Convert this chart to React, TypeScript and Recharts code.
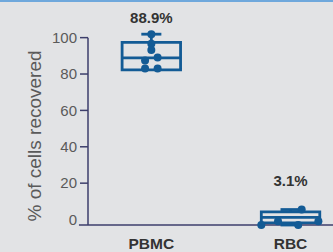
import React from 'react';
import { ComposedChart, XAxis, YAxis, Scatter, ReferenceArea, ReferenceLine } from 'recharts';

// categories + box stats
const categories = ['PBMC', 'RBC'];
const positions = [1, 2];
const summaryLabels = ['88.9%', '3.1%'];
const mins = [82.3, -3];
const q1s = [82.3, -1.8];
const medians = [88.9, 1.2];
const q3s = [97.4, 4.2];
const maxs = [101.9, 5.5];

// individual points (x = category position + jitter)
const pbmcX = [1.0, 1.0, 1.0, 0.955, 1.045, 0.955, 1.045];
const pbmcY = [101.9, 96.7, 93.2, 87.4, 89.1, 83.0, 83.0];
const rbcX = [1.79, 1.91, 2.055, 2.08, 2.2];
const rbcY = [-3, -1, -3, 5.5, -1];

const yTicks = [0, 20, 40, 60, 80, 100];

const BLUE = '#135b95';
const AXIS = '#3d3e6b';
const X_DOMAIN = [0.545, 2.305];
const Y_DOMAIN = [-3, 102];
const BOX_HALF = 0.21;
const CAP_HALF = 0.072;
const BOX_STROKE = 2.8;
const labelLift = [11, 23.5];

const boxes = categories.map((name, i) => ({
  name,
  x: positions[i],
  label: summaryLabels[i],
  lift: labelLift[i],
  min: mins[i],
  q1: q1s[i],
  median: medians[i],
  q3: q3s[i],
  max: maxs[i],
}));

const points = [
  ...pbmcX.map((x, i) => ({ x, y: pbmcY[i] })),
  ...rbcX.map((x, i) => ({ x, y: rbcY[i] })),
];

const TICK_SIZE = 8;
const TICK_MARGIN = 3;

const renderYTick = (props: any) => {
  const { x, y, payload } = props;
  return (
    <g>
      {payload.value !== 0 && (
        <line x1={x + TICK_MARGIN} x2={x + TICK_MARGIN + TICK_SIZE} y1={y} y2={y} stroke={AXIS} strokeWidth={1.5} />
      )}
      <text x={x} y={y} dy="0.355em" textAnchor="end" fontSize={15} fill="#5a5a5a">
        {payload.value}
      </text>
    </g>
  );
};

const renderYLabel = (props: any) => {
  const vb = props.viewBox || {};
  const cx = 34;
  const cy = (vb.y || 0) + (vb.height || 0) / 2 + 6.5;
  return (
    <text x={cx} y={cy} transform={`rotate(-90 ${cx} ${cy})`} textAnchor="middle" dominantBaseline="central" fontSize={19} fill="#5a5a5a">
      % of cells recovered
    </text>
  );
};

export default function App() {
  return (
    <div style={{ position: 'relative', width: 333, height: 252, background: '#e2e3e5', fontFamily: '"Liberation Sans", Arial, sans-serif', overflow: 'hidden' }}>
      <style>{'body{margin:0}'}</style>
      <div style={{ position: 'absolute', top: 0, left: 0, width: 333, height: 2, background: '#6fa8dc' }} />
      <ComposedChart width={333} height={252} margin={{ top: 34, right: 0, bottom: 0, left: 0 }}>
        <XAxis
          type="number"
          dataKey="x"
          domain={X_DOMAIN}
          ticks={positions}
          interval={0}
          tickFormatter={(v: number) => categories[positions.indexOf(v)]}
          axisLine={false}
          tickLine={false}
          tickSize={0}
          tickMargin={13}
          height={27}
          tick={{ fontSize: 15.5, fontWeight: 700, fill: '#333' }}
        />
        <YAxis
          type="number"
          domain={Y_DOMAIN}
          ticks={yTicks}
          interval={0}
          width={88}
          axisLine={false}
          tickLine={false}
          tickSize={TICK_SIZE}
          tickMargin={TICK_MARGIN}
          tick={renderYTick}
          label={renderYLabel}
        />

        {/* axis lines (y stops at 100, x pokes out left like the 0 tick) */}
        <ReferenceLine segment={[{ x: X_DOMAIN[0], y: Y_DOMAIN[0] }, { x: X_DOMAIN[0], y: 100 }]} stroke={AXIS} strokeWidth={1.5} ifOverflow="visible" />
        <ReferenceLine segment={[{ x: 0.48, y: Y_DOMAIN[0] }, { x: X_DOMAIN[1], y: Y_DOMAIN[0] }]} stroke={AXIS} strokeWidth={1.5} ifOverflow="visible" />

        {boxes.map((b) => (
          <ReferenceArea
            key={`box-${b.name}`}
            x1={b.x - BOX_HALF}
            x2={b.x + BOX_HALF}
            y1={b.q1}
            y2={b.q3}
            fill="none"
            stroke={BLUE}
            strokeWidth={BOX_STROKE}
            ifOverflow="visible"
          />
        ))}
        {boxes.map((b) => (
          <ReferenceLine key={`med-${b.name}`} segment={[{ x: b.x - BOX_HALF, y: b.median }, { x: b.x + BOX_HALF, y: b.median }]} stroke={BLUE} strokeWidth={BOX_STROKE} ifOverflow="visible" />
        ))}
        {boxes.map((b) => (
          <ReferenceLine key={`uw-${b.name}`} segment={[{ x: b.x, y: b.q3 }, { x: b.x, y: b.max }]} stroke={BLUE} strokeWidth={BOX_STROKE} ifOverflow="visible" />
        ))}
        {boxes.map((b) => (
          <ReferenceLine key={`uc-${b.name}`} segment={[{ x: b.x - CAP_HALF, y: b.max }, { x: b.x + CAP_HALF, y: b.max }]} stroke={BLUE} strokeWidth={BOX_STROKE} ifOverflow="visible" />
        ))}
        {boxes.filter((b) => b.min < b.q1).map((b) => (
          <ReferenceLine key={`lw-${b.name}`} segment={[{ x: b.x, y: b.q1 }, { x: b.x, y: b.min }]} stroke={BLUE} strokeWidth={BOX_STROKE} ifOverflow="visible" />
        ))}
        {boxes.filter((b) => b.min < b.q1).map((b) => (
          <ReferenceLine key={`lc-${b.name}`} segment={[{ x: b.x - CAP_HALF, y: b.min }, { x: b.x + CAP_HALF, y: b.min }]} stroke={BLUE} strokeWidth={BOX_STROKE} ifOverflow="visible" />
        ))}

        <Scatter
          data={points}
          dataKey="y"
          isAnimationActive={false}
          shape={(p: any) => <circle cx={p.cx} cy={p.cy} r={4} fill={BLUE} />}
        />
        <Scatter
          data={boxes}
          dataKey="max"
          isAnimationActive={false}
          shape={(p: any) => (
            <text x={p.cx} y={p.cy - p.payload.lift} textAnchor="middle" fontSize={15} fontWeight={700} fill="#333">
              {p.payload.label}
            </text>
          )}
        />
      </ComposedChart>
    </div>
  );
}
